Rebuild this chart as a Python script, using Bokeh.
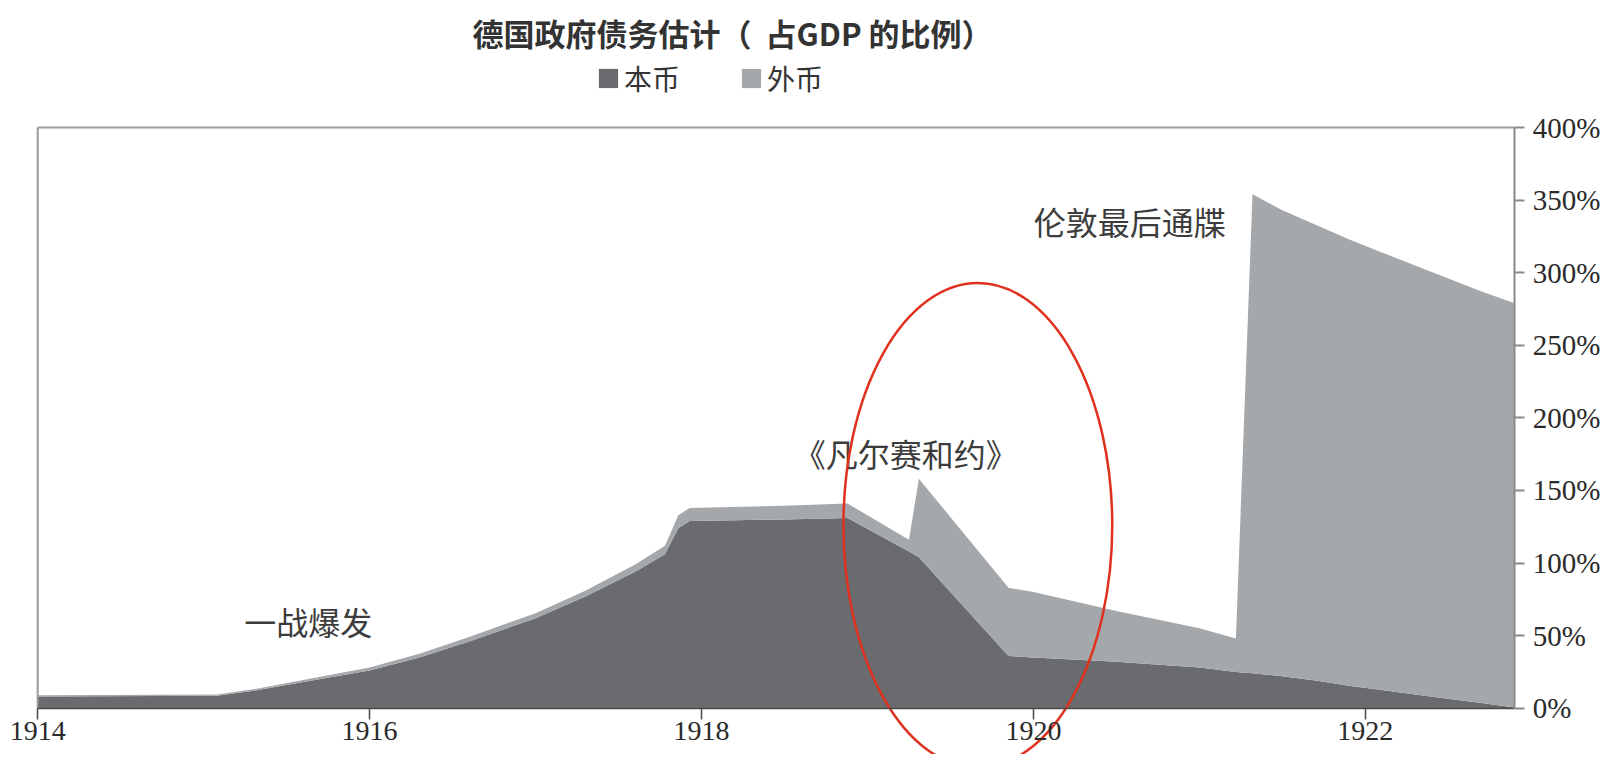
from bokeh.plotting import figure
from bokeh.models import (ColumnDataSource, Range1d, FixedTicker, PrintfTickFormatter,
                          LinearAxis, Legend, LegendItem, Label)
from bokeh.core.properties import value
from bokeh.embed import file_html
from bokeh.resources import INLINE

# ---------------- data ----------------
years = [1914.0, 1915.08, 1915.3, 1915.6, 1916.0, 1916.3, 1916.6, 1917.0, 1917.3,
         1917.6, 1917.78, 1917.86, 1917.93, 1918.5, 1918.88, 1919.25, 1919.31,
         1919.85, 1920.0, 1920.5, 1921.0, 1921.22, 1921.32, 1921.5, 1921.7,
         1921.9, 1922.1, 1922.3, 1922.5, 1922.7, 1922.9]
domestic = [8, 8.5, 12, 18, 26, 35, 46, 62, 77, 94, 106, 124, 129, 130, 131,
            108, 104, 36, 35, 32, 28, 25, 24, 22, 19, 15.5, 12.5, 9.5, 6.5, 3.5, 0.5]
foreign = [1, 1, 1, 1.5, 2, 2.5, 3, 3.5, 4, 5, 6, 9, 9, 9.5, 10,
           8, 54, 47, 45, 35, 27, 23, 330, 321, 314, 307.5, 301.5, 295.5, 289.5,
           283.5, 278.5]

series_names = ["本币", "外币"]
series_colors = ["#6a6b6f", "#a5a8ab"]

x_ticks = [1914, 1916, 1918, 1920, 1922]
y_ticks = [0, 50, 100, 150, 200, 250, 300, 350, 400]

title_text = "德国政府债务估计（\u00a0\u00a0占GDP\u00a0的比例）"
ann_text = ["一战爆发", "《凡尔赛和约》", "伦敦最后通牒"]
ann_x = [1915.63, 1919.23, 1920.58]
ann_y = [60, 176, 336]

circle_x = [1919.665]
circle_y = [126]
circle_w = [1.62]
circle_h = [334]

# ---------------- figure ----------------
W, H = 1604, 754
x_start, x_end = 1913.776, 1923.441
y_start, y_end = -31.9, 487.57
x_last = 1922.9

p = figure(width=W, height=H, output_backend="svg", toolbar_location=None,
           x_range=Range1d(x_start, x_end), y_range=Range1d(y_start, y_end),
           x_axis_location=None, y_axis_location=None)
p.min_border = 0
p.min_border_left = 0
p.min_border_right = 0
p.min_border_top = 0
p.min_border_bottom = 0
p.outline_line_color = None
p.grid.visible = False
p.background_fill_color = "white"
p.border_fill_color = "white"

src = ColumnDataSource(dict(year=years, 本币=domestic, 外币=foreign))
renderers = p.varea_stack(series_names, x="year", source=src, color=series_colors)

# frame border lines (top and left)
p.line(x=[years[0], years[0]], y=[y_ticks[0], y_ticks[-1]], line_color="#9a9a9a", line_width=2)
p.line(x=[years[0], x_last], y=[y_ticks[-1], y_ticks[-1]], line_color="#9a9a9a", line_width=2)

serif = "Liberation Serif, Times New Roman, serif"

# x axis at 0
xaxis = LinearAxis(fixed_location=0, bounds=(years[0], x_last),
                   ticker=FixedTicker(ticks=x_ticks, minor_ticks=[]))
xaxis.axis_line_color = "#4a4a4a"
xaxis.axis_line_width = 1.5
xaxis.major_tick_line_color = "#4a4a4a"
xaxis.major_tick_line_width = 1.5
xaxis.major_tick_out = 11
xaxis.major_tick_in = 0
xaxis.minor_tick_line_color = None
xaxis.major_label_standoff = 3
xaxis.major_label_text_font = serif
xaxis.major_label_text_font_size = "28px"
xaxis.major_label_text_color = "#2a2a2a"
p.add_layout(xaxis, "below")

# right y axis
yaxis = LinearAxis(fixed_location=x_last, bounds=(y_ticks[0], y_ticks[-1]),
                   ticker=FixedTicker(ticks=y_ticks, minor_ticks=[]),
                   formatter=PrintfTickFormatter(format="%d%%"))
yaxis.axis_line_color = "#8a8a8a"
yaxis.axis_line_width = 2
yaxis.major_tick_line_color = "#8a8a8a"
yaxis.major_tick_line_width = 2
yaxis.major_tick_out = 10
yaxis.major_tick_in = 0
yaxis.minor_tick_line_color = None
yaxis.major_label_standoff = 8
yaxis.major_label_text_font = serif
yaxis.major_label_text_font_size = "29px"
yaxis.major_label_text_color = "#2a2a2a"
p.add_layout(yaxis, "right")

# annotations
p.text(x=ann_x, y=ann_y, text=ann_text, text_align="center", text_baseline="middle",
       text_font=value("Noto Sans CJK SC"), text_font_size="32px", text_color="#3c3c3c")

p.ellipse(x=circle_x, y=circle_y, width=circle_w, height=circle_h,
          fill_color=None, line_color="#e0301e", line_width=2.5)

# title
p.add_layout(Label(x=1918.187, y=465.5, text=title_text, text_align="center",
                   text_baseline="middle", text_font="Noto Sans CJK SC",
                   text_font_style="bold", text_font_size="31px", text_color="#333333"))

# legend
legend = Legend(items=[LegendItem(label=n, renderers=[r]) for n, r in zip(series_names, renderers)],
                orientation="horizontal", location=(596, 656),
                padding=0, margin=0, spacing=59, label_standoff=4,
                glyph_width=24, glyph_height=24,
                label_text_font="Noto Sans CJK SC", label_text_font_size="28px",
                label_text_color="#333333",
                border_line_color=None, background_fill_alpha=0)
p.add_layout(legend, "center")

open("out.html", "w").write(file_html(p, INLINE))
